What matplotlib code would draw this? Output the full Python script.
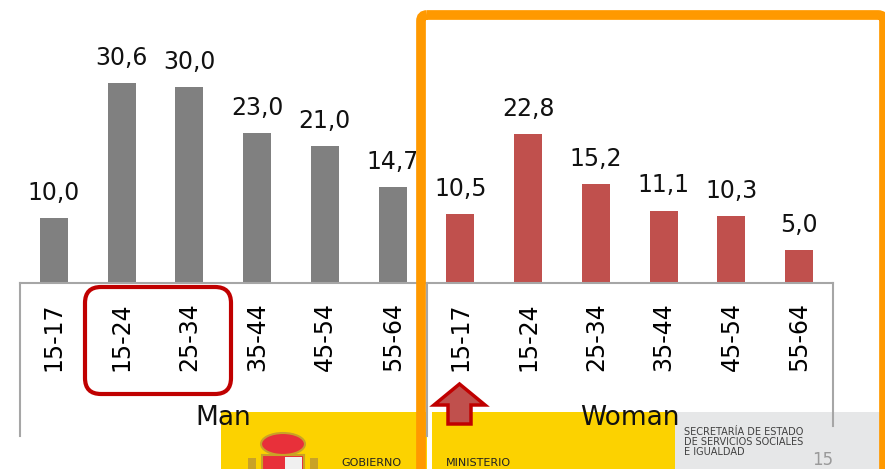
import matplotlib.pyplot as plt
import matplotlib.transforms as mtransforms
from matplotlib.patches import FancyBboxPatch, Rectangle, Polygon, Ellipse

ages = ["15-17", "15-24", "25-34", "35-44", "45-54", "55-64"]
man = [10.0, 30.6, 30.0, 23.0, 21.0, 14.7]
woman = [10.5, 22.8, 15.2, 11.1, 10.3, 5.0]
groups = ["Man", "Woman"]

plt.rcParams['font.family'] = ['DejaVu Sans']

W, H = 885, 469
fig = plt.figure(figsize=(W / 100, H / 100), dpi=100)

# main bar axes, placed in pixel terms
ax = fig.add_axes([20 / W, (H - 283) / H, (833 - 20) / W, 283 / H])
x_man = list(range(6))
x_woman = list(range(6, 12))
ax.bar(x_man, man, width=0.41, color='#808080')
ax.bar(x_woman, woman, width=0.41, color='#c0504d')
ax.set_xlim(-0.5, 11.5)
ax.set_ylim(0, 283 / 6.53)
for s in ['top', 'right', 'left']:
    ax.spines[s].set_visible(False)
ax.spines['bottom'].set_color('#a6a6a6')
ax.spines['bottom'].set_linewidth(1.5)
ax.set_yticks([])
ax.set_xticks(x_man + x_woman)
ax.set_xticklabels(ages + ages, rotation=90, fontsize=17)
ax.tick_params(axis='x', length=0, pad=14)

for xs, vals in [(x_man, man), (x_woman, woman)]:
    for xi, v in zip(xs, vals):
        ax.annotate(f"{v:.1f}".replace('.', ','), (xi, v), xytext=(0, 13),
                    textcoords='offset points', ha='center', va='baseline',
                    fontsize=17, color='#111111')

# overlay in pixel coordinates for the group axis and slide decorations
ov = fig.add_axes([0, 0, 1, 1])
ov.set_xlim(0, W)
ov.set_ylim(H, 0)
ov.axis('off')
ov.set_zorder(3)
ov.patch.set_visible(False)
tr = mtransforms.blended_transform_factory(ax.transData, ov.transData)

# footer band
ov.add_patch(Rectangle((221, 412), 206, 70, fc='#fcd200', ec='none'))
ov.add_patch(Rectangle((432, 412), 243, 70, fc='#fcd200', ec='none'))
ov.add_patch(Rectangle((675, 412), 215, 70, fc='#e6e7e8', ec='none'))

for xb, yb in [(-0.5, 436), (5.5, 436), (11.5, 426)]:
    ov.plot([xb, xb], [283, yb], color='#a6a6a6', lw=1.5, transform=tr)

# rough emblem
ov.add_patch(Ellipse((283, 444), 44, 22, fc='#e8303a', ec='#c9a227', lw=1.5))
ov.add_patch(Rectangle((262, 455), 42, 20, fc='#e8303a', ec='#c9a227', lw=1.5))
ov.add_patch(Rectangle((285, 457), 17, 14, fc='#f0f0f0', ec='none'))
ov.add_patch(Rectangle((248, 458), 8, 15, fc='#c9a227', ec='none'))
ov.add_patch(Rectangle((310, 458), 8, 15, fc='#c9a227', ec='none'))

ov.text(341, 468, "GOBIERNO", fontsize=8, color='#222222', va='bottom')
ov.text(446, 468, "MINISTERIO", fontsize=8, color='#222222', va='bottom')
ov.text(684, 427, "SECRETARÍA DE ESTADO\nDE SERVICIOS SOCIALES\nE IGUALDAD",
        fontsize=7, color='#404040', va='top', linespacing=1.0)
ov.text(812, 469, "15", fontsize=12, color='#9a9a9a', va='bottom')

for gi, g in enumerate(groups):
    ov.text(2.5 + 6 * gi, 418, g, transform=tr, ha='center', va='center',
            fontsize=19, color='#111111')

# highlight boxes
ov.add_patch(FancyBboxPatch((85, 287), 146, 107,
                            boxstyle='round,pad=0,rounding_size=16',
                            fc='none', ec='#c00000', lw=3))
ov.add_patch(Polygon([(434, 405), (459.5, 384), (485, 405), (471, 405),
                      (471, 424), (448, 424), (448, 405)],
                     closed=True, fc='#c0504d', ec='#c00000', lw=2.5))
ov.add_patch(FancyBboxPatch((421, 15), 463, 480,
                            boxstyle='round,pad=0,rounding_size=6',
                            fc='none', ec='#ff9900', lw=7))

fig.savefig('out.png', dpi=100)
